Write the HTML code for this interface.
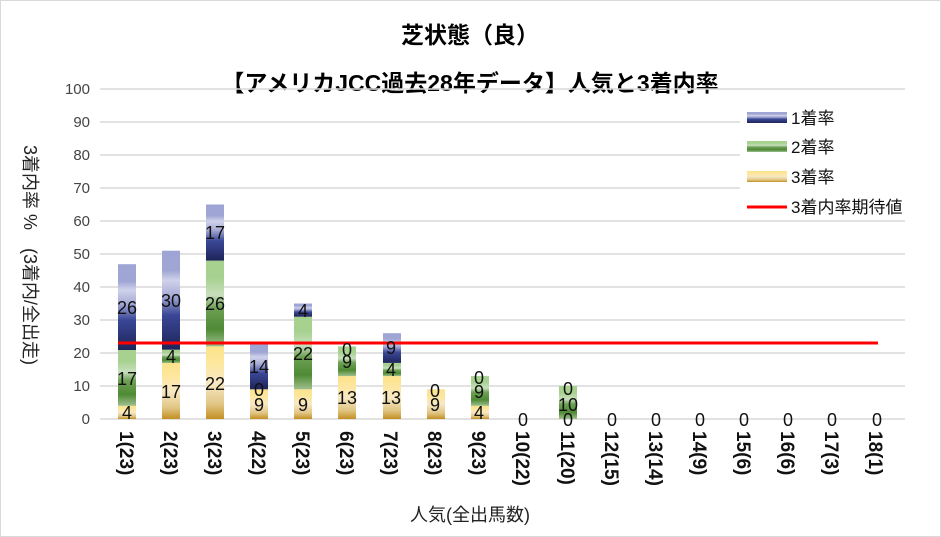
<!DOCTYPE html>
<html><head><meta charset="utf-8"><style>
body{margin:0;background:#fff}
svg{display:block;font-family:"Liberation Sans","Noto Sans CJK JP",sans-serif}
</style></head><body>
<svg width="941" height="537" viewBox="0 0 941 537">
<defs>
<linearGradient id="gb" x1="0" y1="1" x2="0" y2="0">
<stop offset="0" stop-color="#1e2459"/><stop offset="0.35" stop-color="#3a4796"/><stop offset="0.55" stop-color="#a9add6"/><stop offset="0.7" stop-color="#d0d2ea"/><stop offset="0.8" stop-color="#a0a6d4"/><stop offset="1" stop-color="#9ea4d4"/></linearGradient>
<linearGradient id="gg" x1="0" y1="1" x2="0" y2="0">
<stop offset="0" stop-color="#9ebf8e"/><stop offset="0.2" stop-color="#4f8a35"/><stop offset="0.45" stop-color="#6ea055"/><stop offset="0.6" stop-color="#c8dfbd"/><stop offset="0.8" stop-color="#a7d190"/><stop offset="1" stop-color="#a6d18d"/></linearGradient>
<linearGradient id="gy" x1="0" y1="1" x2="0" y2="0">
<stop offset="0" stop-color="#c38f22"/><stop offset="0.2" stop-color="#e0c584"/><stop offset="0.5" stop-color="#f8e8c4"/><stop offset="0.75" stop-color="#fde7a0"/><stop offset="1" stop-color="#fde28a"/></linearGradient>
</defs>
<rect x="0.5" y="0.5" width="940" height="536" fill="#fff" stroke="#d9d9d9"/>
<g font-size="23" font-weight="bold" text-anchor="middle" fill="#000">
<text x="470" y="43">芝状態（良）</text>
<text x="470" y="91">【アメリカJCC過去28年データ】人気と3着内率</text>
</g>
<g stroke="#d9d9d9" stroke-width="1.5">
<line x1="100" x2="905" y1="89" y2="89"/><line x1="100" x2="905" y1="122" y2="122"/><line x1="100" x2="905" y1="155" y2="155"/><line x1="100" x2="905" y1="188" y2="188"/><line x1="100" x2="905" y1="221" y2="221"/><line x1="100" x2="905" y1="254" y2="254"/><line x1="100" x2="905" y1="287" y2="287"/><line x1="100" x2="905" y1="320" y2="320"/><line x1="100" x2="905" y1="353" y2="353"/><line x1="100" x2="905" y1="386" y2="386"/><line x1="100" x2="905" y1="419" y2="419"/>
</g>
<g font-size="15" text-anchor="end" fill="#444">
<text x="90" y="94">100</text><text x="90" y="127">90</text><text x="90" y="160">80</text><text x="90" y="193">70</text><text x="90" y="226">60</text><text x="90" y="259">50</text><text x="90" y="292">40</text><text x="90" y="325">30</text><text x="90" y="358">20</text><text x="90" y="391">10</text><text x="90" y="424">0</text>
</g>
<text transform="translate(24,255) rotate(90)" font-size="18" text-anchor="middle" fill="#222">3着内率 %　(3着内/全出走)</text>
<g>
<rect x="118" y="405.8" width="18" height="13.2" fill="url(#gy)"/><rect x="118" y="349.7" width="18" height="56.1" fill="url(#gg)"/><rect x="118" y="264.2" width="18" height="85.8" fill="url(#gb)"/>
<rect x="162" y="363" width="18" height="56" fill="url(#gy)"/><rect x="162" y="349.7" width="18" height="13.3" fill="url(#gg)"/><rect x="162" y="250.7" width="18" height="99" fill="url(#gb)"/>
<rect x="206" y="346.4" width="18" height="72.6" fill="url(#gy)"/><rect x="206" y="260.6" width="18" height="85.8" fill="url(#gg)"/><rect x="206" y="204.5" width="18" height="56.1" fill="url(#gb)"/>
<rect x="250" y="389.3" width="18" height="29.7" fill="url(#gy)"/><rect x="250" y="343.1" width="18" height="46.2" fill="url(#gb)"/>
<rect x="294" y="389.3" width="18" height="29.7" fill="url(#gy)"/><rect x="294" y="316.7" width="18" height="72.6" fill="url(#gg)"/><rect x="294" y="303.5" width="18" height="13.2" fill="url(#gb)"/>
<rect x="338" y="376.1" width="18" height="42.9" fill="url(#gy)"/><rect x="338" y="346.4" width="18" height="29.7" fill="url(#gg)"/>
<rect x="383" y="376.1" width="18" height="42.9" fill="url(#gy)"/><rect x="383" y="362.9" width="18" height="13.2" fill="url(#gg)"/><rect x="383" y="333.2" width="18" height="29.7" fill="url(#gb)"/>
<rect x="427" y="389.3" width="18" height="29.7" fill="url(#gy)"/>
<rect x="471" y="405.8" width="18" height="13.2" fill="url(#gy)"/><rect x="471" y="376.1" width="18" height="29.7" fill="url(#gg)"/>
<rect x="559" y="386" width="18" height="33" fill="url(#gg)"/>
</g>
<line x1="118" x2="878" y1="343" y2="343" stroke="#ff0000" stroke-width="3"/>
<g font-size="18" text-anchor="middle" fill="#111">
<text x="127" y="419">4</text><text x="127" y="385">17</text><text x="127" y="314">26</text>
<text x="171" y="398">17</text><text x="171" y="363">4</text><text x="171" y="307">30</text>
<text x="215" y="390">22</text><text x="215" y="310">26</text><text x="215" y="239">17</text>
<text x="259" y="411">9</text><text x="259" y="396">0</text><text x="259" y="373">14</text>
<text x="303" y="411">9</text><text x="303" y="360">22</text><text x="303" y="317">4</text>
<text x="347" y="404">13</text><text x="347" y="368">9</text><text x="347" y="356">0</text>
<text x="391" y="404">13</text><text x="391" y="376">4</text><text x="391" y="354">9</text>
<text x="435" y="411">9</text><text x="435" y="397">0</text>
<text x="479" y="419">4</text><text x="479" y="398">9</text><text x="479" y="384">0</text>
<text x="523" y="426">0</text>
<text x="568" y="426">0</text><text x="568" y="411">10</text><text x="568" y="395">0</text>
<text x="612" y="426">0</text><text x="656" y="426">0</text><text x="700" y="426">0</text><text x="744" y="426">0</text><text x="788" y="426">0</text><text x="832" y="426">0</text><text x="877" y="426">0</text>
</g>
<g font-size="19" font-weight="bold" fill="#111">
<text transform="translate(120,431) rotate(90)">1(23)</text>
<text transform="translate(164,431) rotate(90)">2(23)</text>
<text transform="translate(208,431) rotate(90)">3(23)</text>
<text transform="translate(252,431) rotate(90)">4(22)</text>
<text transform="translate(296,431) rotate(90)">5(23)</text>
<text transform="translate(340,431) rotate(90)">6(23)</text>
<text transform="translate(384,431) rotate(90)">7(23)</text>
<text transform="translate(428,431) rotate(90)">8(23)</text>
<text transform="translate(472,431) rotate(90)">9(23)</text>
<text transform="translate(516,431) rotate(90)">10(22)</text>
<text transform="translate(561,431) rotate(90)">11(20)</text>
<text transform="translate(605,431) rotate(90)">12(15)</text>
<text transform="translate(649,431) rotate(90)">13(14)</text>
<text transform="translate(693,431) rotate(90)">14(9)</text>
<text transform="translate(737,431) rotate(90)">15(6)</text>
<text transform="translate(781,431) rotate(90)">16(6)</text>
<text transform="translate(825,431) rotate(90)">17(3)</text>
<text transform="translate(869,431) rotate(90)">18(1)</text>
</g>
<text x="470" y="521" font-size="18" text-anchor="middle" fill="#222">人気(全出馬数)</text>
<rect x="740" y="104" width="195" height="116" fill="#fff"/>
<rect x="747" y="112" width="40" height="11" fill="url(#gb)"/>
<rect x="747" y="141" width="40" height="11" fill="url(#gg)"/>
<rect x="747" y="171" width="40" height="11" fill="url(#gy)"/>
<line x1="747" x2="787" y1="207" y2="207" stroke="#ff0000" stroke-width="3"/>
<g font-size="17" fill="#111">
<text x="791" y="124">1着率</text><text x="791" y="153">2着率</text><text x="791" y="183">3着率</text><text x="791" y="213">3着内率期待値</text>
</g>
</svg>
</body></html>
